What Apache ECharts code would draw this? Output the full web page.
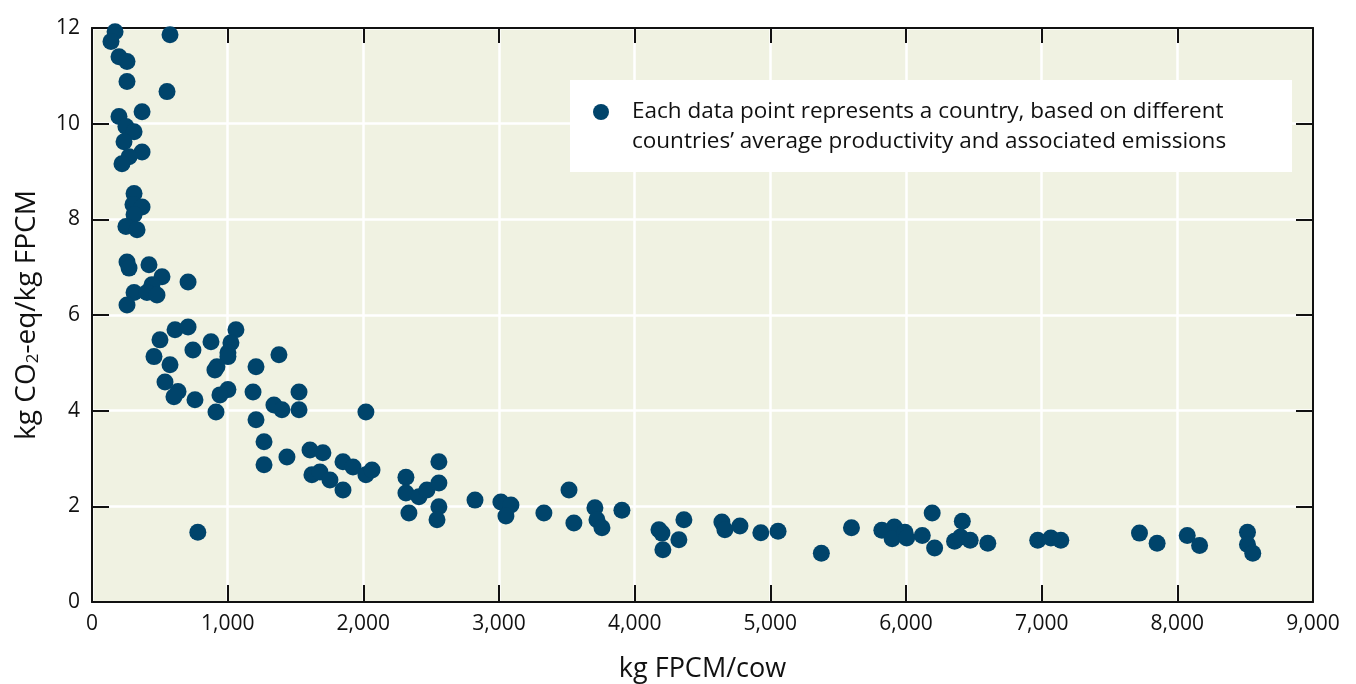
<!DOCTYPE html>
<html>
<head>
<meta charset="utf-8">
<script src="https://cdn.jsdelivr.net/npm/echarts@6/dist/echarts.min.js"></script>
<style>
html,body{margin:0;padding:0;background:#fff;}
#chart{width:1356px;height:684px;}
</style>
</head>
<body>
<div id="chart"></div>
<script>
// kg FPCM per cow (x) and kg CO2-eq per kg FPCM (y), one point per country
var milkPerCow = [
  170, 140, 199, 258, 258, 575, 553, 369, 199, 250,
  310, 236, 369, 273, 221, 310, 302, 369, 310, 250,
  332, 258, 273, 420, 516, 708, 442, 310, 405, 479,
  258, 612, 708, 1061, 501, 877, 744, 1024, 1002, 1002,
  457, 1378, 575, 921, 906, 1209, 538, 634, 604, 759,
  1187, 1002, 943, 1526, 1341, 1400, 1526, 914, 1209, 2019,
  1268, 1268, 1437, 1607, 1702, 1621, 1680, 1754, 1850, 1924,
  1850, 2019, 2064, 2314, 2314, 2336, 2410, 2469, 2557, 2557,
  2557, 2543, 780, 2823, 3014, 3088, 3051, 3331, 3516, 3552,
  3707, 3722, 3759, 3906, 4179, 4201, 4208, 4326, 4363, 4643,
  4665, 4776, 4930, 5057, 5376, 5598, 5822, 5914, 5898, 5992,
  6005, 6120, 6193, 6211, 6358, 6402, 6415, 6473, 6603, 6971,
  7068, 7141, 7721, 7851, 8073, 8164, 8517, 8517, 8556
];
var emissionIntensity = [
  11.92, 11.72, 11.40, 11.30, 10.88, 11.86, 10.67, 10.25, 10.15, 9.94,
  9.83, 9.62, 9.41, 9.31, 9.16, 8.54, 8.31, 8.26, 8.10, 7.85,
  7.78, 7.11, 6.98, 7.05, 6.80, 6.69, 6.63, 6.47, 6.47, 6.42,
  6.21, 5.69, 5.75, 5.69, 5.48, 5.44, 5.27, 5.42, 5.21, 5.13,
  5.13, 5.17, 4.96, 4.92, 4.85, 4.92, 4.60, 4.40, 4.29, 4.23,
  4.39, 4.44, 4.33, 4.39, 4.12, 4.02, 4.02, 3.97, 3.81, 3.97,
  3.35, 2.87, 3.03, 3.18, 3.12, 2.66, 2.72, 2.55, 2.93, 2.82,
  2.34, 2.66, 2.76, 2.61, 2.28, 1.86, 2.20, 2.34, 2.93, 2.49,
  1.99, 1.72, 1.46, 2.13, 2.09, 2.03, 1.80, 1.86, 2.34, 1.65,
  1.97, 1.72, 1.55, 1.92, 1.51, 1.44, 1.09, 1.30, 1.72, 1.67,
  1.51, 1.59, 1.45, 1.48, 1.02, 1.55, 1.50, 1.57, 1.32, 1.46,
  1.34, 1.39, 1.86, 1.13, 1.27, 1.36, 1.69, 1.29, 1.23, 1.29,
  1.34, 1.29, 1.44, 1.23, 1.39, 1.18, 1.46, 1.20, 1.02
];
var xTicks = [0, 1000, 2000, 3000, 4000, 5000, 6000, 7000, 8000, 9000];
var yTicks = [0, 2, 4, 6, 8, 10, 12];
var legendLines = [
  'Each data point represents a country, based on different',
  'countries\u2019 average productivity and associated emissions'
];
var xTitle = 'kg FPCM/cow';
var yTitle = 'kg CO{sub|2}-eq/kg FPCM';

var FONT = '"Open Sans", "DejaVu Sans", sans-serif';
var DOT = '#00446B';
var pts = milkPerCow.map(function (v, i) { return [v, emissionIntensity[i]]; });

var chart = echarts.init(document.getElementById('chart'));
var xMin = xTicks[0], xMax = xTicks[xTicks.length - 1], xStep = xTicks[1] - xTicks[0];
var yMin = yTicks[0], yMax = yTicks[yTicks.length - 1], yStep = yTicks[1] - yTicks[0];
var axisLine = { show: true, onZero: false, lineStyle: { color: '#111', width: 2 } };
var tick = function (len) { return { show: true, inside: true, length: len, lineStyle: { color: '#111', width: 2 } }; };

chart.setOption({
  backgroundColor: '#fff',
  animation: false,
  grid: { left: 92, right: 43, top: 28, bottom: 82, show: true, backgroundColor: '#F0F2E2', borderWidth: 0,
    containLabel: false, outerBoundsMode: 'none' },
  xAxis: [{
    type: 'value', min: xMin, max: xMax, interval: xStep, position: 'bottom',
    name: xTitle, nameLocation: 'middle', nameGap: 54,
    nameTextStyle: { fontFamily: FONT, fontSize: 27, color: '#111' },
    axisLine: axisLine, axisTick: tick(17),
    axisLabel: { fontFamily: FONT, fontSize: 21, color: '#111', margin: 12,
      formatter: function (v) { return v.toLocaleString('en-US'); } },
    splitLine: { show: true, lineStyle: { color: '#fff', width: 2.5 } }
  }, {
    type: 'value', min: xMin, max: xMax, interval: xStep, position: 'top',
    axisLine: axisLine, axisTick: tick(15),
    axisLabel: { show: false }, splitLine: { show: false }
  }],
  yAxis: [{
    type: 'value', min: yMin, max: yMax, interval: yStep, position: 'left',
    name: yTitle, nameLocation: 'middle', nameGap: 50,
    nameTextStyle: { fontFamily: FONT, fontSize: 28, color: '#111',
      rich: { sub: { fontFamily: FONT, fontSize: 17, color: '#111', verticalAlign: 'bottom', padding: [12, 0, 0, 0] } } },
    axisLine: axisLine, axisTick: tick(17),
    axisLabel: { fontFamily: FONT, fontSize: 21, color: '#111', margin: 12 },
    splitLine: { show: true, lineStyle: { color: '#fff', width: 2.5 } }
  }, {
    type: 'value', min: yMin, max: yMax, interval: yStep, position: 'right',
    axisLine: axisLine, axisTick: tick(17),
    axisLabel: { show: false }, splitLine: { show: false }
  }],
  series: [{
    type: 'scatter', xAxisIndex: 0, yAxisIndex: 0,
    symbol: 'circle', symbolSize: 17,
    itemStyle: { color: DOT, opacity: 1 },
    data: pts
  }],
  graphic: [
    { type: 'rect', shape: { x: 570, y: 80, width: 722, height: 92 }, style: { fill: '#fff' }, z: 10 },
    { type: 'circle', shape: { cx: 601, cy: 112, r: 8 }, style: { fill: DOT }, z: 11 },
    { type: 'text', x: 632, y: 112, z: 11,
      style: { text: legendLines[0], fontFamily: FONT, fontSize: 22.5, fill: '#111', verticalAlign: 'middle' } },
    { type: 'text', x: 632, y: 142, z: 11,
      style: { text: legendLines[1], fontFamily: FONT, fontSize: 22.5, fill: '#111', verticalAlign: 'middle' } }
  ]
});
</script>
</body>
</html>
